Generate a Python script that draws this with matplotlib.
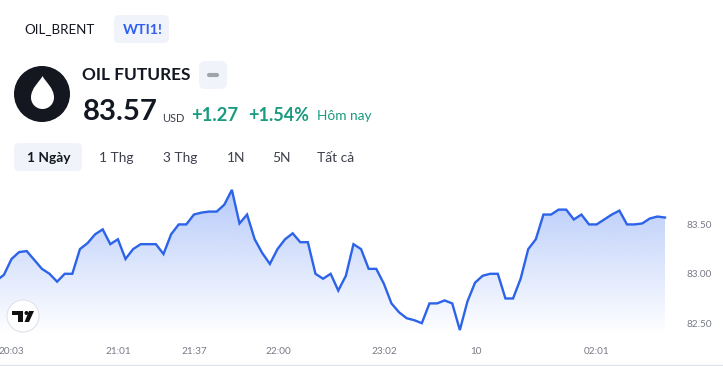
import numpy as np
import matplotlib
matplotlib.use("Agg")
import matplotlib.pyplot as plt
from matplotlib.patches import FancyBboxPatch, Circle, PathPatch, Polygon
from matplotlib.path import Path

plt.rcParams['font.family'] = ['Lato', 'Noto Sans', 'DejaVu Sans']

prices = [82.93, 82.99, 83.15, 83.22, 83.23, 83.14, 83.05, 83.00, 82.92, 83.00, 83.00, 83.25,
          83.31, 83.40, 83.45, 83.30, 83.35, 83.15, 83.25, 83.30, 83.30, 83.30, 83.20, 83.40,
          83.50, 83.50, 83.60, 83.62, 83.63, 83.63, 83.70, 83.85, 83.51, 83.60, 83.35, 83.21,
          83.10, 83.25, 83.35, 83.41, 83.32, 83.32, 83.00, 82.95, 83.00, 82.83, 82.98, 83.30,
          83.25, 83.05, 83.05, 82.90, 82.70, 82.61, 82.55, 82.53, 82.50, 82.70, 82.70, 82.73,
          82.70, 82.43, 82.72, 82.91, 82.98, 83.00, 83.00, 82.75, 82.75, 82.95, 83.25, 83.35,
          83.60, 83.60, 83.65, 83.65, 83.55, 83.60, 83.50, 83.50, 83.55, 83.60, 83.64, 83.50,
          83.50, 83.51, 83.56, 83.58, 83.57]
time_labels = ["20:03", "21:01", "21:37", "22:00", "23:02", "10", "02:01"]
time_ticks = [2.0, 16.05, 26.05, 37.05, 51.05, 63.1, 79.05]
price_ticks = [82.5, 83.0, 83.5]
tabs = ["OIL_BRENT", "WTI1!"]
ranges = ["1 Ngày", "1 Thg", "3 Thg", "1N", "5N", "Tất cả"]

W, H = 723, 366
fig = plt.figure(figsize=(W / 100, H / 100), dpi=100, facecolor="white")

# ---- chart axes (pixel box x 0..680, y 180..335)
ax = fig.add_axes([0, 1 - 335 / H, 680 / W, 155 / H])
step = (665 + 3.67) / (len(prices) - 1)
x = np.arange(len(prices))
x0 = 3.67 / step
x1 = (680 + 3.67) / step
ax.set_xlim(x0, x1)
y_bot, y_top = 82.38, 83.95
ax.set_ylim(y_bot, y_top)

grad = np.zeros((256, 1, 4))
grad[..., 0] = 41 / 255
grad[..., 1] = 98 / 255
grad[..., 2] = 240 / 255
grad[..., 3] = np.linspace(0.36, 0.0, 256).reshape(-1, 1)
im = ax.imshow(grad, extent=[x0, x1, y_bot, y_top], origin="upper", aspect="auto", zorder=1)
poly = Polygon(list(zip(x, prices)) + [(x[-1], y_bot), (x[0], y_bot)], closed=True,
               transform=ax.transData, fc="none", ec="none")
ax.add_patch(poly)
im.set_clip_path(poly)
ax.plot(x, prices, color="#2c63e8", lw=1.7, zorder=3, solid_joinstyle="miter")
ax.set_xlim(x0, x1)
ax.set_ylim(y_bot, y_top)

for s in ax.spines.values():
    s.set_visible(False)
ax.yaxis.tick_right()
ax.set_yticks(price_ticks, [f"{v:.2f}" for v in price_ticks])
ax.set_xticks(time_ticks, time_labels)
ax.tick_params(axis="both", length=0, labelsize=7.2, colors="#787b86")
ax.tick_params(axis="y", pad=5)
ax.tick_params(axis="x", pad=9)
ax.patch.set_alpha(0)

# ---- overlay in pixel coordinates
ov = fig.add_axes([0, 0, 1, 1], zorder=5)
ov.set_xlim(0, W)
ov.set_ylim(H, 0)
ov.axis("off")
ov.patch.set_alpha(0)

DARK = "#131722"
GREEN = "#1a9a7e"
PALE = "#f0f3fa"


def box(x0_, y0_, x1_, y1_, fc=PALE, r=5):
    ov.add_patch(FancyBboxPatch((x0_ + r, y0_ + r), x1_ - x0_ - 2 * r, y1_ - y0_ - 2 * r,
                                boxstyle=f"round,pad={r},rounding_size={r}", fc=fc, ec="none"))


def label(px, py, s, size_px, color=DARK, weight="normal", ha="left"):
    return ov.text(px, py, s, fontsize=size_px * 0.72, color=color, fontweight=weight,
                   ha=ha, va="center")


# tabs
box(114, 15, 169, 43)
label(24, 29.5, tabs[0], 13.4)
label(123, 29.5, tabs[1], 14.3, color="#2f5ff0", weight="bold")

# logo
ov.add_patch(Circle((42, 94), 28, fc="#14171f", ec="none"))
cx, cy, r = 42.5, 97.5, 11.5
k = 0.5523 * r
drop = Path(
    [(cx, 76), (cx + 3, 82), (cx + r, 88), (cx + r, cy),
     (cx + r, cy + k), (cx + k, cy + r), (cx, cy + r),
     (cx - k, cy + r), (cx - r, cy + k), (cx - r, cy),
     (cx - r, 88), (cx - 3, 82), (cx, 76)],
    [Path.MOVETO] + [Path.CURVE4] * 12)
ov.add_patch(PathPatch(drop, fc="white", ec="none"))

# title row
label(82, 75, "OIL FUTURES", 17.2, weight="bold")
box(199, 61, 227, 89, r=6)
ov.plot([209, 217], [75, 75], color="#9ea2ac", lw=3, solid_capstyle="round")

# price row
label(82.5, 111.5, "83.57", 29.3, weight="bold")
label(162, 118, "USD", 11, color="#3c404b")
label(191, 115.5, "+1.27", 18.5, color=GREEN, weight="bold")
label(248, 115.5, "+1.54%", 18, color=GREEN, weight="bold")
label(317, 116.5, "Hôm nay", 13.6, color=GREEN)

# range buttons
box(14, 143, 82, 171)
range_x = [27, 99, 163, 227, 272, 317]
for i, (s, px) in enumerate(zip(ranges, range_x)):
    label(px, 157.5, s, 13.8, color=DARK if i == 0 else "#3c404b", weight="bold" if i == 0 else "normal")

# TradingView badge
ov.add_patch(Circle((23, 316), 16, fc="white", ec="#e0e3eb", lw=0.8))
ov.add_patch(Polygon([(12, 311), (23, 311), (23, 322), (18, 322), (18, 315), (12, 315)],
                     closed=True, fc="#111111", ec="none"))
ov.add_patch(Circle((26.5, 313), 2, fc="#111111", ec="none"))
ov.add_patch(Polygon([(29, 311), (34, 311), (29, 322), (24.5, 322)], closed=True, fc="#111111", ec="none"))

# bottom rule
ov.plot([0, W], [365, 365], color="#e0e3eb", lw=1)

fig.savefig("out.png", dpi=100, facecolor="white")
